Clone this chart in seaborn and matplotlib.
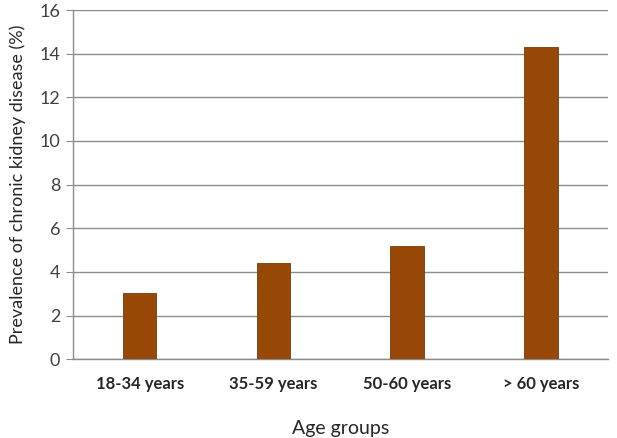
import matplotlib
matplotlib.use("Agg")
import matplotlib.pyplot as plt
import seaborn as sns
import pandas as pd

# Values
age_groups = ["18-34 years", "35-59 years", "50-60 years", "> 60 years"]
prevalence = [3.05, 4.4, 5.2, 14.3]

sns.set_style("white")
plt.rcParams["font.family"] = ["Lato", "DejaVu Sans"]

df = pd.DataFrame({"age": age_groups, "prev": prevalence})

fig = plt.figure(figsize=(6.17, 4.38), dpi=100)
ax = fig.add_axes([0.118, 0.180, 0.867, 0.797])

sns.barplot(data=df, x="age", y="prev", color="#974806", saturation=1,
            width=0.25, edgecolor="#7a3a05", linewidth=0.6, ax=ax, zorder=3)

ax.set_ylim(0, 16)
ax.set_yticks(range(0, 17, 2))
ax.grid(axis="y", color="#8c8c8c", linewidth=1, zorder=0)
ax.set_axisbelow(True)

for side in ["top", "right"]:
    ax.spines[side].set_visible(False)
for side in ["left", "bottom"]:
    ax.spines[side].set_color("#8c8c8c")
    ax.spines[side].set_linewidth(1)

ax.tick_params(axis="y", length=5, color="#8c8c8c", labelsize=13,
               labelcolor="#404040", left=True, pad=4)
ax.tick_params(axis="x", length=0, labelsize=12, pad=12)
for lbl in ax.get_xticklabels():
    lbl.set_fontweight("bold")

ax.set_xlabel("Age groups", fontsize=14, labelpad=20)
ax.set_ylabel("Prevalence of chronic kidney disease (%)", fontsize=13, labelpad=10)

fig.savefig("out.png", dpi=100)
